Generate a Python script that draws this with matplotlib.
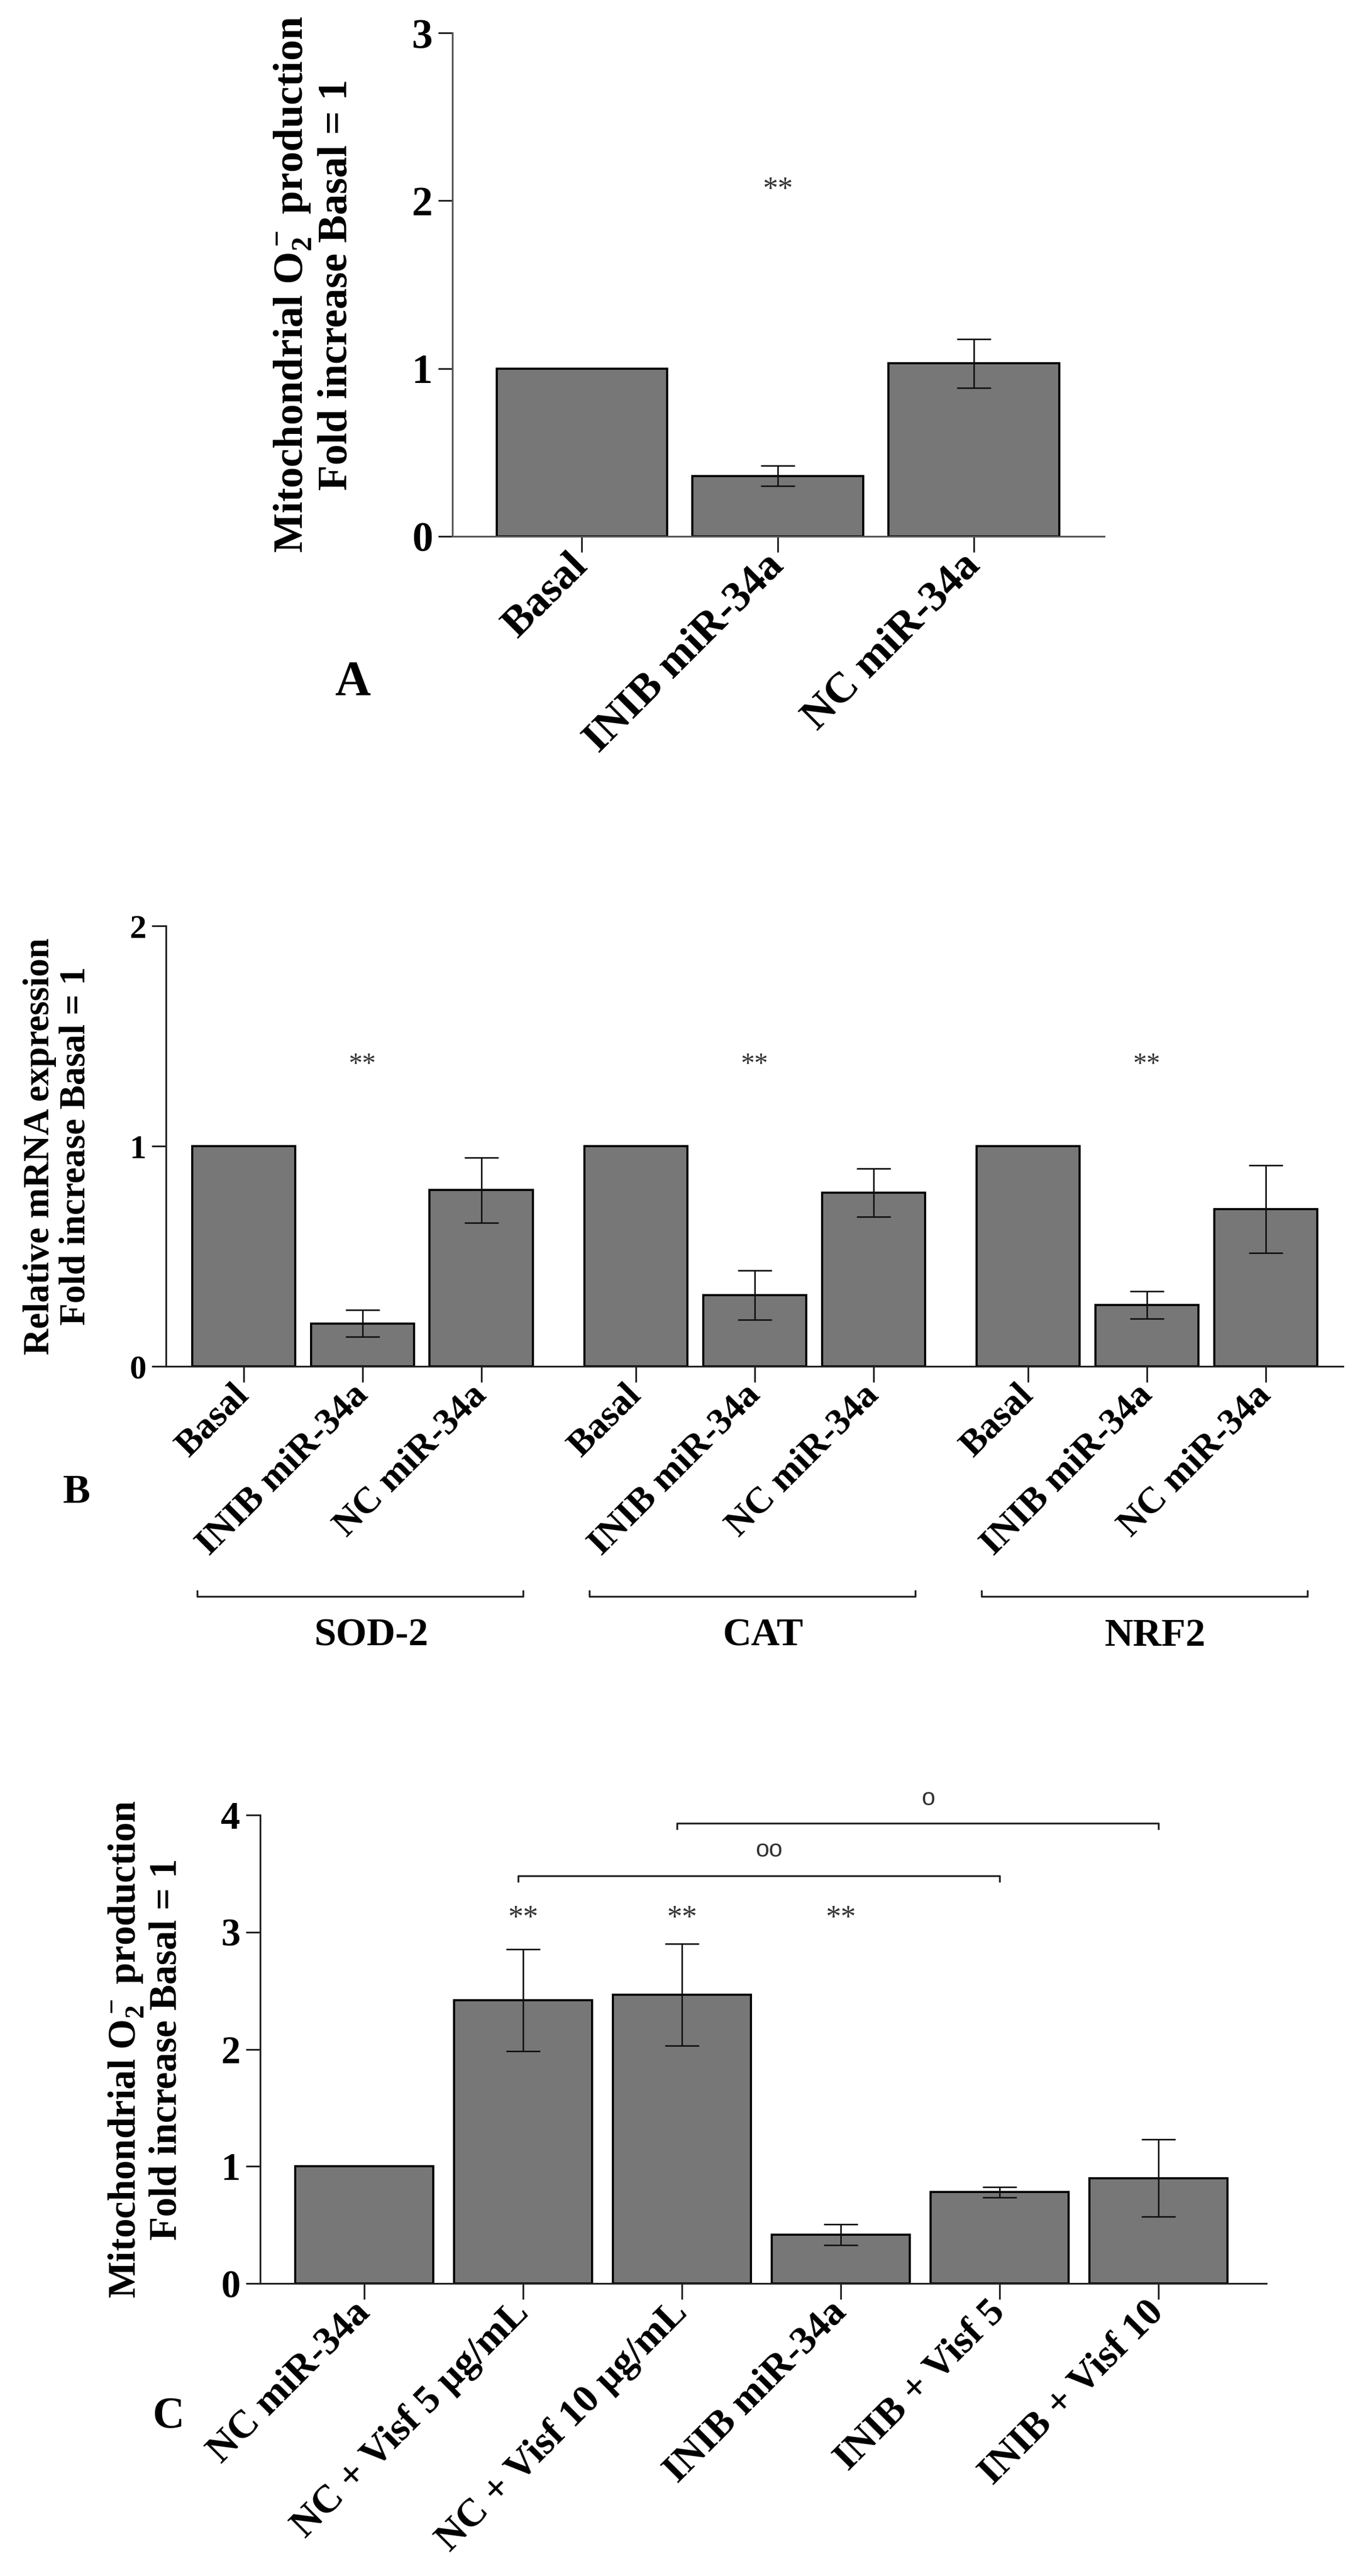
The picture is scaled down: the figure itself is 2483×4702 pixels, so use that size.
import matplotlib
matplotlib.use("Agg")
import matplotlib.pyplot as plt

plt.rcParams["font.family"] = ["Liberation Serif", "DejaVu Serif"]
plt.rcParams["font.weight"] = "bold"
plt.rcParams["mathtext.fontset"] = "custom"
plt.rcParams["mathtext.rm"] = "Liberation Serif:bold"
plt.rcParams["mathtext.it"] = "Liberation Serif:bold:italic"
plt.rcParams["mathtext.bf"] = "Liberation Serif:bold"

# panel A
a_labels = ["Basal", "INIB miR-34a", "NC miR-34a"]
a_means = [1.0, 0.36, 1.03]
a_err = [0.0, 0.06, 0.145]
a_star_idx = [1]
a_star_y = 2.06

# panel B
b_genes = ["SOD-2", "CAT", "NRF2"]
b_labels = ["Basal", "INIB miR-34a", "NC miR-34a"]
b_means = [1.0, 0.195, 0.80, 1.0, 0.323, 0.789, 1.0, 0.278, 0.714]
b_err = [0.0, 0.06, 0.148, 0.0, 0.112, 0.11, 0.0, 0.062, 0.20]
b_star_y = 1.37

# panel C
c_labels = ["NC miR-34a", "NC + Visf 5 µg/mL", "NC + Visf 10 µg/mL",
            "INIB miR-34a", "INIB + Visf 5", "INIB + Visf 10"]
c_means = [1.0, 2.42, 2.466, 0.416, 0.78, 0.90]
c_err = [0.0, 0.435, 0.435, 0.09, 0.045, 0.33]
c_star_idx = [1, 2, 3]
c_star_y = 3.11
# (from, to, bracket y, symbol, text y)
c_brackets = [(1, 4, 3.48, "oo", 3.70), (2, 5, 3.93, "o", 4.14)]

W, H = 2483, 4702
DPI = 100
BAR_COLOR = "#777777"
BAR_W = 0.87


def px_box(left, top, right, bottom):
    return [left / W, 1 - bottom / H, (right - left) / W, (bottom - top) / H]


def style_axes(ax, ytick_size, xtick_size, spine_color="#222222"):
    for s in ("top", "right"):
        ax.spines[s].set_visible(False)
    for s in ("left", "bottom"):
        ax.spines[s].set_linewidth(2.3)
        ax.spines[s].set_color(spine_color)
    ax.tick_params(axis="y", length=19, width=2.3, labelsize=ytick_size, pad=7,
                   color="#222222")
    ax.tick_params(axis="x", length=21, width=2.3, labelsize=xtick_size, pad=10,
                   color="#222222")
    for lab in ax.get_xticklabels():
        lab.set_rotation(45)
        lab.set_ha("right")
        lab.set_va("center")
        lab.set_rotation_mode("anchor")
        lab.set_fontweight("bold")
    for lab in ax.get_yticklabels():
        lab.set_fontweight("bold")


def draw_bars(ax, pos, means, errs):
    ax.bar(pos, means, width=BAR_W, color=BAR_COLOR, edgecolor="black",
           linewidth=2.8, zorder=2)
    ep = [p for p, e in zip(pos, errs) if e > 0]
    em = [m for m, e in zip(means, errs) if e > 0]
    ee = [e for e in errs if e > 0]
    ax.errorbar(ep, em, yerr=ee, fmt="none", ecolor="#111111",
                elinewidth=2.0, capsize=22, capthick=2.0, zorder=3)


fig = plt.figure(figsize=(W / DPI, H / DPI), dpi=DPI)

# ---------------- A
axA = fig.add_axes(px_box(826, 60, 2016, 979))
xa = list(range(len(a_labels)))
draw_bars(axA, xa, a_means, a_err)
axA.set_xlim(-0.66, 2.665)
axA.set_ylim(0, 3)
axA.set_yticks([0, 1, 2, 3])
axA.set_xticks(xa)
axA.set_xticklabels(a_labels)
style_axes(axA, 55, 57, spine_color="#555555")
for i in a_star_idx:
    axA.text(i, a_star_y, "**", ha="center", va="center", fontsize=40,
             fontweight="normal", color="#333333")
axA.set_ylabel("Mitochondrial O$_2^-$ production\nFold increase Basal = 1",
               fontsize=55, fontweight="bold", linespacing=1.15)
axA.yaxis.label.set_va("center")
axA.yaxis.set_label_coords(-0.2126, 0.5)

# ---------------- B
axB = fig.add_axes(px_box(303, 1690, 2452, 2494))
xb = [g * 3.3 + i for g in range(len(b_genes)) for i in range(len(b_labels))]
draw_bars(axB, xb, b_means, b_err)
axB.set_xlim(-0.654, 9.25)
axB.set_ylim(0, 2)
axB.set_yticks([0, 1, 2])
axB.set_xticks(xb)
axB.set_xticklabels(b_labels * len(b_genes))
style_axes(axB, 44, 49)
tB = axB.get_xaxis_transform()
for g, gene in enumerate(b_genes):
    x0 = xb[g * 3]
    x2 = xb[g * 3 + 2]
    axB.text(xb[g * 3 + 1], b_star_y, "**", ha="center", va="center",
             fontsize=36, fontweight="normal", color="#333333")
    axB.plot([x0 - 0.39, x0 - 0.39, x2 + 0.35, x2 + 0.35],
             [-0.510, -0.522, -0.522, -0.510], transform=tB, color="#222222",
             lw=2.4, clip_on=False)
    axB.text(xb[g * 3 + 1] + 0.07, -0.612, gene, transform=tB, ha="center",
             va="center", fontsize=52, fontweight="bold")
axB.set_ylabel("Relative mRNA expression\nFold increase Basal = 1",
               fontsize=48, fontweight="bold", linespacing=1.1)
axB.yaxis.label.set_va("center")
axB.yaxis.set_label_coords(-0.0921, 0.5)

# ---------------- C
axC = fig.add_axes(px_box(475, 3313, 2312, 4168))
xc = list(range(len(c_labels)))
draw_bars(axC, xc, c_means, c_err)
axC.set_xlim(-0.655, 5.68)
axC.set_ylim(0, 4)
axC.set_yticks([0, 1, 2, 3, 4])
axC.set_xticks(xc)
axC.set_xticklabels(c_labels)
style_axes(axC, 51, 52)
for i in c_star_idx:
    axC.text(i, c_star_y, "**", ha="center", va="center", fontsize=40,
             fontweight="normal", color="#333333")
for a, b, y, sym, ty in c_brackets:
    axC.plot([a - 0.03, a - 0.03, b, b], [y - 0.045, y, y, y - 0.045],
             color="#222222", lw=2.4, clip_on=False)
    axC.text((a + b) / 2 + 0.05, ty, sym, ha="center", va="center",
             fontsize=32, fontweight="normal", color="#333333",
             family=["Liberation Sans", "DejaVu Sans"])
axC.set_ylabel("Mitochondrial O$_2^-$ production\nFold increase Basal = 1",
               fontsize=51, fontweight="bold", linespacing=1.1)
axC.yaxis.label.set_va("center")
axC.yaxis.set_label_coords(-0.1138, 0.5)

# panel letters
fig.text(644 / W, 1 - 1247 / H, "A", ha="center", va="center", fontsize=65,
         fontweight="bold")
fig.text(140 / W, 1 - 2725 / H, "B", ha="center", va="center", fontsize=54,
         fontweight="bold")
fig.text(307 / W, 1 - 4411 / H, "C", ha="center", va="center", fontsize=58,
         fontweight="bold")

fig.savefig("out.png", dpi=DPI, facecolor="white")
